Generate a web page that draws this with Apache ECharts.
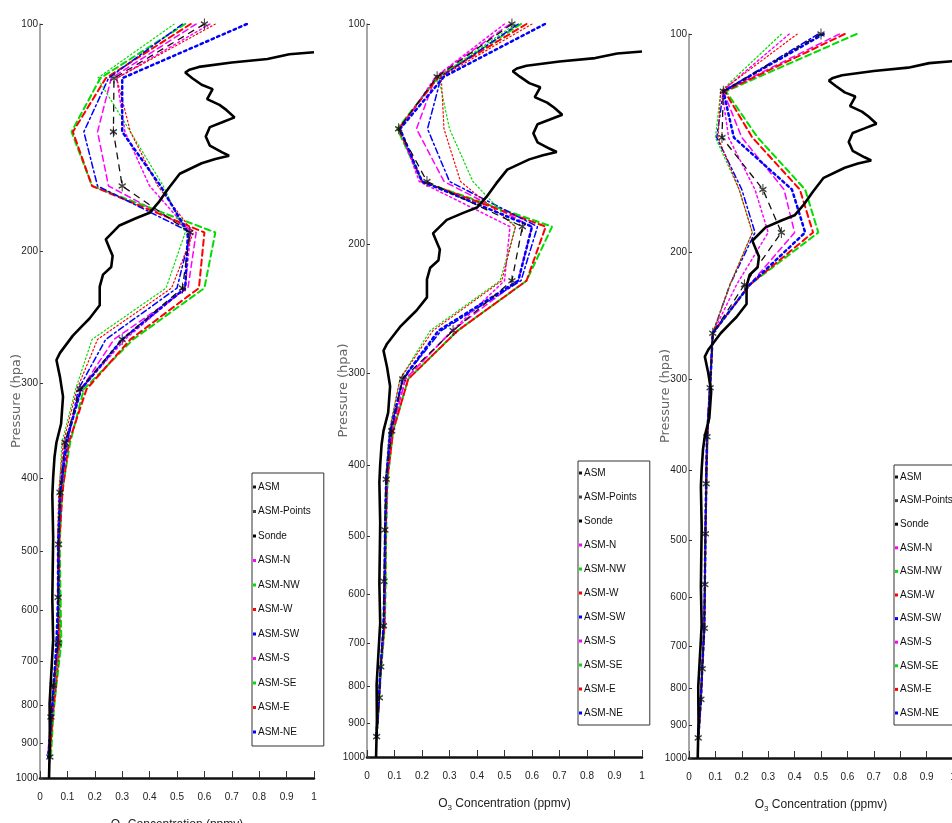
<!DOCTYPE html>
<html><head><meta charset="utf-8">
<script src="https://cdn.jsdelivr.net/npm/echarts@6/dist/echarts.min.js"></script>
<style>html,body{margin:0;padding:0;background:#fff}#c{width:952px;height:823px}</style>
</head><body><div id="c"></div>
<script>
// ---------- DATA ----------
const seriesNames = ['ASM','ASM-Points','Sonde','ASM-N','ASM-NW','ASM-W','ASM-SW','ASM-S','ASM-SE','ASM-E','ASM-NE'];
const pressureTicks = [100,200,300,400,500,600,700,800,900,1000];
const concTicks = [0,0.1,0.2,0.3,0.4,0.5,0.6,0.7,0.8,0.9,1];

// Ozonesonde profile (ppmv vs hPa)
const sondeP = [109,109.7,111.3,112.5,114,115,116,118,120.4,122,125.8,128,130,133,135,137,141,145,148,149.5,151,153,158,165,172,178,181,185,193,199,203,210,215,223,236,246,251,259,273,279,294,312,339,359,375,399,422,479,580,656,797,890,1000];
const sondeV = [1.0,0.91,0.83,0.70,0.58,0.545,0.53,0.556,0.59,0.63,0.61,0.655,0.68,0.71,0.665,0.62,0.605,0.62,0.665,0.69,0.64,0.59,0.51,0.47,0.435,0.40,0.35,0.29,0.24,0.255,0.265,0.26,0.23,0.218,0.218,0.18,0.156,0.12,0.073,0.06,0.073,0.084,0.077,0.06,0.053,0.048,0.045,0.048,0.045,0.048,0.035,0.036,0.033];

// Model levels (hPa)
const levelsA = [100,118,139,164,189,224,262,305,359,418,490,576,662,753,830,938];
const levelsC = [100,120,139,164,188,222,259,308,360,418,490,576,662,753,830,938];

// Panel 1
const p1_ASM = [0.60,0.27,0.268,0.30,0.547,0.52,0.30,0.146,0.091,0.073,0.068,0.066,0.066,0.048,0.040,0.036];
const p1_N   = [0.57,0.26,0.21,0.25,0.57,0.54,0.27,0.15,0.095,0.078,0.070,0.068,0.070,0.055,0.045,0.035];
const p1_NW  = [0.53,0.22,0.115,0.19,0.64,0.60,0.34,0.16,0.110,0.080,0.072,0.075,0.078,0.060,0.048,0.040];
const p1_W   = [0.55,0.24,0.12,0.19,0.60,0.58,0.33,0.17,0.105,0.082,0.070,0.070,0.072,0.058,0.046,0.036];
const p1_SW  = [0.52,0.25,0.16,0.21,0.55,0.50,0.24,0.14,0.100,0.075,0.068,0.070,0.065,0.052,0.042,0.030];
const p1_S   = [0.62,0.28,0.31,0.40,0.55,0.53,0.31,0.15,0.090,0.072,0.066,0.064,0.070,0.050,0.040,0.030];
const p1_SE  = [0.49,0.21,0.33,0.45,0.53,0.46,0.19,0.13,0.080,0.070,0.065,0.070,0.075,0.055,0.040,0.032];
const p1_E   = [0.64,0.28,0.33,0.43,0.56,0.48,0.21,0.135,0.085,0.068,0.064,0.066,0.068,0.050,0.038,0.028];
const p1_NE  = [0.755,0.30,0.30,0.44,0.54,0.53,0.30,0.15,0.095,0.074,0.066,0.066,0.060,0.050,0.042,0.030];

// Panel 2
const p2_ASM = [0.527,0.255,0.115,0.218,0.565,0.527,0.313,0.13,0.090,0.070,0.065,0.062,0.060,0.050,0.045,0.035];
const p2_N   = [0.52,0.25,0.18,0.28,0.60,0.55,0.31,0.14,0.090,0.072,0.068,0.065,0.062,0.050,0.045,0.035];
const p2_NW  = [0.56,0.26,0.11,0.20,0.673,0.58,0.33,0.15,0.095,0.075,0.070,0.068,0.065,0.052,0.045,0.036];
const p2_W   = [0.58,0.26,0.115,0.20,0.65,0.58,0.33,0.15,0.095,0.074,0.068,0.066,0.064,0.050,0.044,0.035];
const p2_SW  = [0.55,0.27,0.22,0.30,0.62,0.56,0.27,0.13,0.085,0.070,0.066,0.064,0.060,0.050,0.043,0.034];
const p2_S   = [0.50,0.25,0.12,0.19,0.52,0.50,0.31,0.14,0.090,0.070,0.066,0.064,0.062,0.050,0.044,0.035];
const p2_SE  = [0.54,0.26,0.30,0.385,0.54,0.484,0.23,0.12,0.080,0.068,0.064,0.062,0.060,0.048,0.042,0.034];
const p2_E   = [0.60,0.27,0.28,0.34,0.54,0.49,0.24,0.12,0.082,0.068,0.064,0.062,0.060,0.048,0.042,0.034];
const p2_NE  = [0.647,0.28,0.12,0.20,0.60,0.55,0.26,0.13,0.085,0.070,0.066,0.064,0.060,0.050,0.043,0.034];

// Panel 3
const p3_ASM = [0.50,0.13,0.125,0.28,0.35,0.21,0.09,0.080,0.068,0.065,0.062,0.060,0.058,0.050,0.045,0.035];
const p3_N   = [0.57,0.13,0.20,0.36,0.40,0.23,0.09,0.080,0.068,0.065,0.062,0.060,0.058,0.050,0.045,0.035];
const p3_NW  = [0.635,0.14,0.26,0.44,0.49,0.23,0.09,0.080,0.070,0.066,0.063,0.060,0.058,0.050,0.045,0.036];
const p3_W   = [0.59,0.135,0.24,0.42,0.47,0.23,0.09,0.080,0.070,0.066,0.063,0.060,0.058,0.050,0.045,0.036];
const p3_SW  = [0.49,0.13,0.105,0.20,0.25,0.155,0.09,0.078,0.068,0.064,0.062,0.060,0.057,0.050,0.044,0.034];
const p3_S   = [0.38,0.125,0.15,0.25,0.30,0.18,0.09,0.078,0.068,0.064,0.062,0.060,0.057,0.050,0.044,0.034];
const p3_SE  = [0.35,0.12,0.10,0.19,0.24,0.155,0.09,0.078,0.068,0.064,0.062,0.060,0.057,0.050,0.044,0.034];
const p3_E   = [0.41,0.12,0.11,0.19,0.24,0.155,0.09,0.078,0.068,0.064,0.062,0.060,0.057,0.050,0.044,0.034];
const p3_NE  = [0.51,0.13,0.17,0.39,0.44,0.23,0.09,0.080,0.068,0.065,0.062,0.060,0.058,0.050,0.045,0.035];

// ---------- STYLES ----------
const NARROW = "'Liberation Sans Narrow','Liberation Sans',Arial,sans-serif";
const styles = {
  'ASM-N':  {color:'#ff00ff', width:1.5, type:[6,4]},
  'ASM-NW': {color:'#00dd00', width:2,   type:[6,4]},
  'ASM-W':  {color:'#ff0000', width:2,   type:[6,4]},
  'ASM-SW': {color:'#0000ff', width:1.5, type:[6,3,2,3]},
  'ASM-S':  {color:'#ff00ff', width:1.5, type:[2,3]},
  'ASM-SE': {color:'#00dd00', width:1.2, type:[1.5,2.5]},
  'ASM-E':  {color:'#ff0000', width:1.2, type:[1.5,2.5]},
  'ASM-NE': {color:'#0000ff', width:2.5, type:[2.5,3.5]}
};
const panels = [
  {levels: levelsA, ASM:p1_ASM, 'ASM-N':p1_N,'ASM-NW':p1_NW,'ASM-W':p1_W,'ASM-SW':p1_SW,'ASM-S':p1_S,'ASM-SE':p1_SE,'ASM-E':p1_E,'ASM-NE':p1_NE,
   grid:{left:40, top:24, width:274, height:754}, legend:{left:252, top:473, gap:14.5, pad:9}},
  {levels: levelsA, ASM:p2_ASM, 'ASM-N':p2_N,'ASM-NW':p2_NW,'ASM-W':p2_W,'ASM-SW':p2_SW,'ASM-S':p2_S,'ASM-SE':p2_SE,'ASM-E':p2_E,'ASM-NE':p2_NE,
   grid:{left:367, top:24, width:275, height:733}, legend:{left:578, top:461, gap:14, pad:7}},
  {levels: levelsC, ASM:p3_ASM, 'ASM-N':p3_N,'ASM-NW':p3_NW,'ASM-W':p3_W,'ASM-SW':p3_SW,'ASM-S':p3_S,'ASM-SE':p3_SE,'ASM-E':p3_E,'ASM-NE':p3_NE,
   grid:{left:689, top:34, width:264, height:724}, legend:{left:894, top:465, gap:13.6, pad:7}}
];

const grids=[], xAxes=[], yAxes=[], series=[], legends=[];
const starPath = 'path://M5,0L5,12M0,3.5L10,8.5M0,8.5L10,3.5';

panels.forEach((pn, gi) => {
  grids.push(Object.assign({containLabel:false, outerBoundsMode:'none'}, pn.grid));
  xAxes.push({
    type:'value', gridIndex:gi, min:0, max:1, interval:0.1,
    axisLine:{show:true, onZero:false, lineStyle:{color:'#111', width:2.5}},
    axisTick:{show:true, inside:true, length:7, lineStyle:{color:'#333', width:1}},
    axisLabel:{color:'#222', fontFamily:NARROW, fontSize:10, margin:14, formatter:v=>String(v)},
    splitLine:{show:false},
    name:'{o|O}{s|3}{o| Concentration (ppmv)}', nameLocation:'middle', nameGap:38,
    nameTextStyle:{rich:{o:{fontFamily:NARROW, fontSize:12, color:'#222'}, s:{fontFamily:NARROW, fontSize:8, color:'#222', padding:[9,0,0,0]}}}
  });
  yAxes.push({
    type:'log', logBase:10, gridIndex:gi, min:100, max:1000, inverse:true,
    axisLine:{show:true, lineStyle:{color:'#888', width:1.5}},
    axisTick:{show:true, inside:true, length:3, customValues:pressureTicks, lineStyle:{color:'#333'}},
    axisLabel:{customValues:pressureTicks, color:'#222', fontFamily:NARROW, fontSize:10, margin:2, formatter:v=>String(v)},
    splitLine:{show:false}, minorTick:{show:false},
    name:'Pressure (hpa)', nameLocation:'middle', nameGap:17, nameRotate:90, nameMoveOverlap:false,
    nameTextStyle:{color:'#666', fontFamily:'DejaVu Sans', fontSize:13}
  });
  series.push({name:'ASM', type:'line', xAxisIndex:gi, yAxisIndex:gi, symbol:'none', animation:false,
    data: pn.levels.map((p,i)=>[pn.ASM[i], p]),
    lineStyle:{color:'#111', width:1.3, type:[7,5]}, itemStyle:{color:'#111'}, z:3});
  ['ASM-N','ASM-NW','ASM-W','ASM-SW','ASM-S','ASM-SE','ASM-E','ASM-NE'].forEach(nm => {
    const st = styles[nm];
    series.push({name:nm, type:'line', xAxisIndex:gi, yAxisIndex:gi, symbol:'none', animation:false,
      data: pn.levels.map((p,i)=>[pn[nm][i], p]),
      lineStyle:{color:st.color, width:st.width, type:st.type, cap:'round'}, itemStyle:{color:st.color}, z:2});
  });
  series.push({name:'ASM-Points', type:'scatter', xAxisIndex:gi, yAxisIndex:gi, animation:false,
    data: pn.levels.map((p,i)=>[pn.ASM[i], p]),
    symbol:starPath, symbolSize:[7,11],
    itemStyle:{color:'rgba(0,0,0,0)', borderColor:'#111', borderWidth:1.3}, z:4});
  series.push({name:'Sonde', type:'line', xAxisIndex:gi, yAxisIndex:gi, symbol:'none', animation:false,
    data: sondeP.map((p,i)=>[sondeV[i], p]),
    lineStyle:{color:'#000', width:2.6}, itemStyle:{color:'#000'}, z:5});
  legends.push({
    orient:'vertical', left:pn.legend.left, top:pn.legend.top,
    itemGap:pn.legend.gap, itemWidth:3, itemHeight:3, icon:'rect',
    padding:[pn.legend.pad, 13, pn.legend.pad, 1],
    borderColor:'#333', borderWidth:1, backgroundColor:'#fff',
    selectedMode:false,
    textStyle:{fontFamily:NARROW, fontSize:10, color:'#111', padding:[0,0,0,-3]},
    data: seriesNames.map(n => ({name:n, itemStyle: n==='ASM-Points' ? {color:'#111', borderWidth:0} : undefined}))
  });
});

const chart = echarts.init(document.getElementById('c'), null, {renderer:'canvas'});
chart.setOption({
  animation:false, backgroundColor:'#fff',
  grid:grids, xAxis:xAxes, yAxis:yAxes, legend:legends, series:series
});
</script></body></html>
